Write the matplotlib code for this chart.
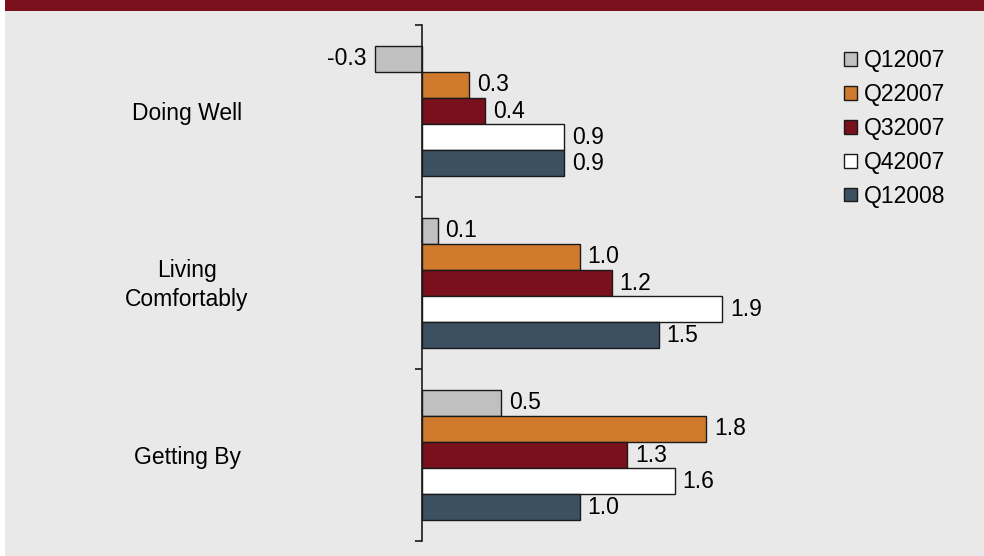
import matplotlib
matplotlib.use('Agg')
import matplotlib.pyplot as plt
from matplotlib.patches import Rectangle
from matplotlib.transforms import blended_transform_factory
import numpy as np

categories = ['Doing Well', 'Living\nComfortably', 'Getting By']
series = ['Q12007', 'Q22007', 'Q32007', 'Q42007', 'Q12008']
values = {
    'Q12007': [-0.3, 0.1, 0.5],
    'Q22007': [0.3, 1.0, 1.8],
    'Q32007': [0.4, 1.2, 1.3],
    'Q42007': [0.9, 1.9, 1.6],
    'Q12008': [0.9, 1.5, 1.0],
}
colors = ['#C0C0C0', '#D07A2E', '#7A101C', '#FFFFFF', '#3C5062']

plt.rcParams['font.family'] = ['Liberation Sans', 'DejaVu Sans']
plt.rcParams['font.size'] = 16.5

W, H = 984, 556
fig = plt.figure(figsize=(W / 100, H / 100), dpi=100)
fig.patch.set_facecolor('white')

# background panel and top band
fig.patches.append(Rectangle((5 / W, 0), 1 - 5 / W, 1 - 11 / H, transform=fig.transFigure,
                             facecolor='#E9E9E9', edgecolor='none', zorder=-10))
fig.patches.append(Rectangle((5 / W, 1 - 11 / H), 1 - 5 / W, 11 / H, transform=fig.transFigure,
                             facecolor='#7B111D', edgecolor='none', zorder=-10))

ax = fig.add_axes([343 / W, 15 / H, 474 / W, 516 / H])
ax.set_facecolor('none')
ax.set_xlim(-0.5, 2.5)
ax.set_ylim(2.5, -0.5)

y = np.arange(len(categories))
bh = 0.152
for i, (s, c) in enumerate(zip(series, colors)):
    off = (i - 2) * bh
    bars = ax.barh(y + off, values[s], height=bh, color=c, edgecolor='#1A1A1A',
                   linewidth=1.0, label=s, zorder=3)
    ax.bar_label(bars, fmt='%.1f', padding=5.5, fontsize=16.5)

for sp in ['top', 'right', 'bottom']:
    ax.spines[sp].set_visible(False)
ax.spines['left'].set_position(('data', 0))
ax.spines['left'].set_linewidth(1.2)
ax.spines['left'].set_color('#1A1A1A')
ax.spines['left'].set_zorder(4)
ax.set_xticks([])
ax.set_yticks([-0.5, 0.5, 1.5, 2.5])
ax.set_yticklabels([])
ax.tick_params(axis='y', length=5, width=1.2, direction='out', color='#1A1A1A')

tr = blended_transform_factory(fig.transFigure, ax.transData)
for i, lab in enumerate(categories):
    ax.text(187 / W, i + 0.012, lab, transform=tr, ha='center', va='center',
            fontsize=16.5, linespacing=1.3)

fig.legend(loc='upper left', bbox_to_anchor=(833 / W, 1 - 38 / H), frameon=False,
           handlelength=0.55, handleheight=0.55, handletextpad=0.3,
           labelspacing=0.47, borderpad=0, fontsize=16.5)

fig.savefig('out.png', dpi=100, facecolor=fig.get_facecolor())
